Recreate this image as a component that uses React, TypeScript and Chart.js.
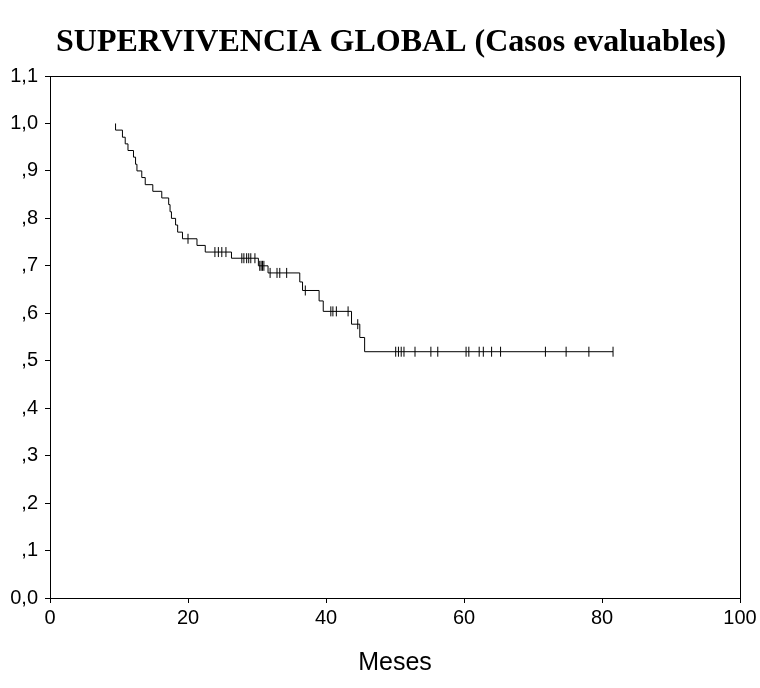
import { useEffect, useRef } from 'react';
import { Chart, registerables } from 'chart.js';

Chart.register(...registerables);

const TITLE = 'SUPERVIVENCIA GLOBAL (Casos evaluables)';
const X_TITLE = 'Meses';
const Y_TICK_LABELS = ['0,0', ',1', ',2', ',3', ',4', ',5', ',6', ',7', ',8', ',9', '1,0', '1,1'];
const X_MIN = 0;
const X_MAX = 100;
const X_STEP = 20;
const Y_MIN = 0;
const Y_MAX = 1.1;
const Y_STEP = 0.1;

// Kaplan-Meier step curve: event times (months) and survival after each event
const stepTimes = [9.5, 9.5, 10.5, 10.9, 11.3, 12.1, 12.4, 12.6, 13.3, 13.8, 14.9, 16.2, 17.2, 17.4, 17.6, 18.2, 18.5, 19.2, 21.3, 22.5, 26.3, 30.2, 31.6, 36.2, 36.6, 39.0, 39.6, 43.7, 44.9, 45.6, 81.6];
const stepSurvival = [1.0, 0.986, 0.971, 0.957, 0.943, 0.929, 0.914, 0.9, 0.886, 0.871, 0.857, 0.843, 0.829, 0.814, 0.8, 0.786, 0.771, 0.757, 0.743, 0.729, 0.716, 0.7, 0.685, 0.666, 0.648, 0.626, 0.604, 0.577, 0.549, 0.519, 0.519];

// Censored observations (months)
const censorTimes = [20.0, 23.9, 24.4, 24.9, 25.5, 27.8, 28.1, 28.5, 28.8, 29.1, 29.7, 30.4, 30.6, 30.8, 31.0, 31.9, 32.9, 33.3, 34.3, 37.0, 40.7, 41.0, 41.5, 43.2, 44.6, 50.1, 50.5, 50.9, 51.3, 52.9, 55.2, 56.2, 60.3, 60.7, 62.2, 62.8, 64.0, 65.3, 71.8, 74.8, 78.1, 81.6];

function survivalAt(t: number): number {
  let s = stepSurvival[0];
  for (let i = 0; i < stepTimes.length; i++) {
    if (stepTimes[i] <= t) s = stepSurvival[i];
  }
  return s;
}

const boxPlugin = {
  id: 'boxPlugin',
  afterDraw(chart: any) {
    const { ctx, chartArea } = chart;
    ctx.save();
    ctx.strokeStyle = '#000';
    ctx.lineWidth = 1;
    ctx.strokeRect(Math.round(chartArea.left) + 0.5, Math.round(chartArea.top) + 0.5,
      Math.round(chartArea.right - chartArea.left), Math.round(chartArea.bottom - chartArea.top));
    ctx.restore();
  },
};

const titlePlugin = {
  id: 'titlePlugin',
  afterDraw(chart: any) {
    const { ctx, chartArea } = chart;
    ctx.save();
    ctx.fillStyle = '#000';
    ctx.font = 'bold 32px "Liberation Serif", "Times New Roman", serif';
    ctx.textAlign = 'center';
    ctx.textBaseline = 'alphabetic';
    ctx.fillText(TITLE, (chartArea.left + chartArea.right) / 2 - 4, 51);
    ctx.restore();
  },
};

export default function App() {
  const ref = useRef<HTMLCanvasElement | null>(null);
  useEffect(() => {
    document.body.style.margin = '0';
    const canvas = ref.current;
    if (!canvas) return;
    const lineData = stepTimes.map((t, i) => ({ x: t, y: stepSurvival[i] }));
    const censorData = censorTimes.map((t) => ({ x: t, y: survivalAt(t) }));
    const chart = new Chart(canvas, {
      type: 'scatter',
      data: {
        datasets: [
          {
            type: 'line',
            data: lineData,
            borderColor: '#000',
            borderWidth: 1,
            stepped: 'before',
            pointRadius: 0,
            fill: false,
          } as any,
          {
            data: censorData,
            pointStyle: 'line',
            rotation: 90,
            pointRadius: 5,
            borderColor: '#000',
            borderWidth: 1,
            backgroundColor: '#000',
          } as any,
        ],
      },
      options: {
        animation: false,
        responsive: false,
        maintainAspectRatio: false,
        layout: { padding: { left: 0, right: 20, top: 76, bottom: 0 } },
        plugins: {
          legend: { display: false },
          tooltip: { enabled: false },
          title: { display: false },
        },
        scales: {
          x: {
            type: 'linear',
            min: X_MIN,
            max: X_MAX,
            ticks: {
              stepSize: X_STEP,
              color: '#000',
              font: { family: '"Liberation Sans", Arial, sans-serif', size: 20 },
              padding: 3,
              maxRotation: 0,
            },
            grid: { display: true, drawOnChartArea: false, drawTicks: true, tickLength: 5, color: '#000' },
            border: { display: true, color: '#000' },
            title: {
              display: true,
              text: X_TITLE,
              color: '#000',
              font: { family: '"Liberation Sans", Arial, sans-serif', size: 25, lineHeight: 1.2 },
              padding: { top: 0, bottom: 10 },
            },
            afterFit(scale: any) { scale.height = 90; },
          },
          y: {
            type: 'linear',
            min: Y_MIN,
            max: Y_MAX,
            ticks: {
              stepSize: Y_STEP,
              color: '#000',
              font: { family: '"Liberation Sans", Arial, sans-serif', size: 20 },
              padding: 7,
              callback: (v: any) => Y_TICK_LABELS[Math.round(Number(v) / Y_STEP)] ?? '',
            },
            grid: { display: true, drawOnChartArea: false, drawTicks: true, tickLength: 5, color: '#000' },
            border: { display: true, color: '#000' },
            afterFit(scale: any) { scale.width = 50; },
          },
        },
      },
      plugins: [boxPlugin, titlePlugin],
    });
    return () => chart.destroy();
  }, []);
  return (
    <div style={{ position: 'absolute', left: 0, top: 0, width: 760, height: 688, background: '#fff' }}>
      <canvas ref={ref} width={760} height={688} style={{ width: 760, height: 688 }} />
    </div>
  );
}
